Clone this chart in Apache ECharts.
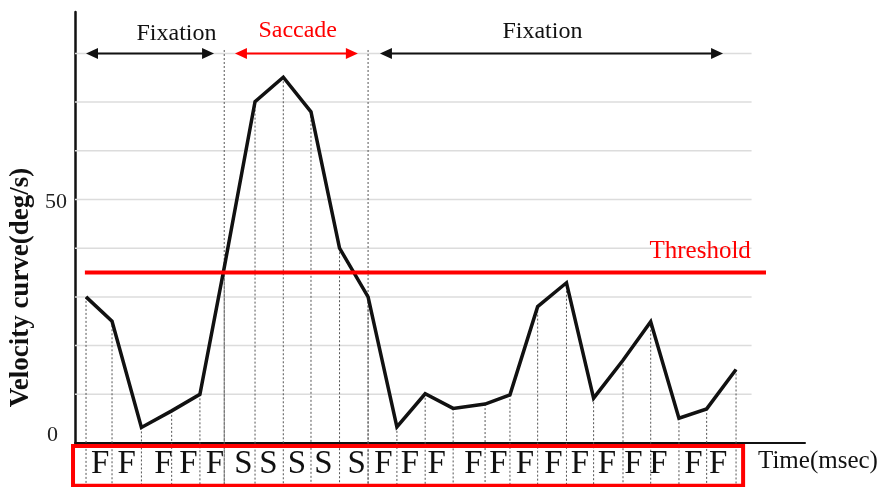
<!DOCTYPE html>
<html><head><meta charset="utf-8">
<script src="https://cdn.jsdelivr.net/npm/echarts@6/dist/echarts.min.js"></script>
<style>html,body{margin:0;padding:0;background:#fff}#c{width:887px;height:487px}</style>
</head><body><div id="c"></div>
<script>
// ---- data ----
const times = [0, 0.92, 1.96, 3.03, 4.03, 4.89, 5.98, 6.98, 7.96, 8.97, 9.98, 11.0, 12.0, 12.99, 14.12, 15.0, 15.98, 17.0, 17.96, 19.0, 19.98, 20.98, 21.96, 23.0];
const velocity = [30.0, 25.0, 3.2, 6.6, 10.0, 36.0, 70.1, 75.1, 68.0, 40.0, 30.0, 3.3, 10.1, 7.1, 8.0, 9.9, 28.0, 32.9, 9.2, 17.0, 24.9, 5.1, 7.0, 15.1];
const threshold = 35;
const thresholdSpan = [-0.04, 24.06];
const thresholdLabelAt = [21.73, 39.4];
const gridValues = [10, 20, 30, 40, 50, 60, 70, 80];
const gridSpan = [-0.39, 23.55];
const yTickLabels = ['0', '50'];
const phaseBoundaries = [4.89, 9.98];
const boundaryTop = 80.7;
const phaseNames = ['Fixation', 'Saccade', 'Fixation'];
const phaseStart = [0, 5.27, 10.40];
const phaseEnd = [4.53, 9.62, 22.54];
const phaseLabelTimes = [3.2, 7.49, 16.15];
const phaseLabelValues = [84.0, 84.6, 84.4];
const arrowValue = 80;
const sampleClasses = ['F','F','F','F','F','S','S','S','S','S','F','F','F','F','F','F','F','F','F','F','F','F','F'];
const classTimes = [0.50, 1.44, 2.74, 3.62, 4.56, 5.57, 6.45, 7.46, 8.40, 9.58, 10.52, 11.46, 12.41, 13.71, 14.59, 15.53, 16.54, 17.48, 18.43, 19.37, 20.25, 21.49, 22.37];
const classValue = -4.3;
const boxTimes = [-0.46, 23.25];
const boxValues = [-0.6, -8.8];

// ---- styles ----
const SERIF = '"Liberation Serif", "DejaVu Serif", serif';
const RED = '#ff0000';
const BLACK = '#111111';
const phaseColors = [BLACK, RED, BLACK];

const chart = echarts.init(document.getElementById('c'), null, {renderer: 'canvas'});

function textEl(x, y, text, size, color, weight) {
  return {type: 'text', x: x, y: y, style: {text: text, fill: color, fontSize: size, fontFamily: SERIF, fontWeight: weight || 'normal', align: 'center', verticalAlign: 'middle', textAlign: 'center', textVerticalAlign: 'middle'}};
}

const option = {
  animation: false,
  backgroundColor: '#ffffff',
  grid: {left: 75, right: 82, top: 12, bottom: 44, containLabel: false, outerBoundsMode: 'none'},
  xAxis: {
    type: 'value', min: -0.39, max: 25.44,
    axisLine: {show: true, onZero: true, lineStyle: {color: BLACK, width: 2}},
    axisTick: {show: false}, axisLabel: {show: false}, splitLine: {show: false},
    name: 'Time(msec)', nameLocation: 'end', nameGap: -47,
    nameTextStyle: {fontFamily: SERIF, fontSize: 25, color: BLACK, align: 'left', verticalAlign: 'top', lineHeight: 36}
  },
  yAxis: {
    type: 'value', min: 0, max: 88.5, interval: 10,
    axisLine: {show: true, onZero: false, lineStyle: {color: BLACK, width: 2.5}},
    axisTick: {show: false}, splitLine: {show: false},
    axisLabel: {
      margin: 8,
      formatter: function (v) { return v === 0 ? '{z|' + yTickLabels[0] + '}' : (v === 50 ? '{f|' + yTickLabels[1] + '}' : ''); },
      rich: {
        z: {fontFamily: SERIF, fontSize: 22, color: '#222', padding: [0, 9, 16, 0]},
        f: {fontFamily: SERIF, fontSize: 22, color: '#222', padding: [6, 0, 0, 0]}
      }
    },
    name: 'Velocity curve(deg/s)', nameLocation: 'middle', nameGap: 20, nameRotate: 90,
    nameTextStyle: {fontFamily: SERIF, fontSize: 27, fontWeight: 'bold', color: BLACK, padding: [0, 120, 0, 0]}
  },
  series: [
    { // horizontal gridlines
      type: 'custom', z: 1, silent: true, clip: false,
      data: gridValues.map(v => [gridSpan[0], v]),
      renderItem: function (params, api) {
        const v = api.value(1);
        const a = api.coord([gridSpan[0], v]);
        const b = api.coord([gridSpan[1], v]);
        return {type: 'line', shape: {x1: a[0], y1: a[1], x2: b[0], y2: b[1]}, style: {stroke: '#dcdcdc', lineWidth: 1.5}};
      }
    },
    { // dotted drop lines from each sample
      type: 'custom', z: 2, silent: true, clip: false,
      data: times.map((t, i) => [t, velocity[i]]),
      renderItem: function (params, api) {
        const t = api.value(0);
        const a = api.coord([t, api.value(1)]);
        const b = api.coord([t, boxValues[1]]);
        return {type: 'line', shape: {x1: a[0], y1: a[1], x2: b[0], y2: b[1]}, style: {stroke: '#555', lineWidth: 1, lineDash: [2, 2]}};
      }
    },
    { // dotted phase boundaries
      type: 'custom', z: 2, silent: true, clip: false,
      data: phaseBoundaries.map(t => [t, boundaryTop]),
      renderItem: function (params, api) {
        const t = api.value(0);
        const a = api.coord([t, api.value(1)]);
        const b = api.coord([t, boxValues[1]]);
        return {type: 'line', shape: {x1: a[0], y1: a[1], x2: b[0], y2: b[1]}, style: {stroke: '#555', lineWidth: 1, lineDash: [2, 2]}};
      }
    },
    { // velocity curve
      type: 'line', z: 3, name: 'Velocity', symbol: 'none',
      data: times.map((t, i) => [t, velocity[i]]),
      lineStyle: {color: BLACK, width: 3.5, join: 'miter'}
    },
    { // threshold
      type: 'line', z: 4, name: 'Threshold', symbol: 'none', clip: false,
      data: thresholdSpan.map(t => [t, threshold]),
      lineStyle: {color: RED, width: 4}
    },
    { // threshold label
      type: 'custom', z: 5, silent: true, clip: false,
      data: [thresholdLabelAt],
      renderItem: function (params, api) {
        const p = api.coord([api.value(0), api.value(1)]);
        return textEl(p[0], p[1], 'Threshold', 25, RED);
      }
    },
    { // phase arrows and labels
      type: 'custom', z: 5, silent: true, clip: false,
      data: phaseStart.map((s, i) => [s, phaseEnd[i], phaseLabelTimes[i], phaseLabelValues[i]]),
      renderItem: function (params, api) {
        const i = params.dataIndex;
        const col = phaseColors[i];
        const a = api.coord([api.value(0), arrowValue]);
        const b = api.coord([api.value(1), arrowValue]);
        const L = 12, H = 5.5;
        const lp = api.coord([api.value(2), api.value(3)]);
        return {type: 'group', children: [
          {type: 'line', shape: {x1: a[0] + L - 1, y1: a[1], x2: b[0] - L + 1, y2: b[1]}, style: {stroke: col, lineWidth: 2}},
          {type: 'polygon', shape: {points: [[a[0], a[1]], [a[0] + L, a[1] - H], [a[0] + L, a[1] + H]]}, style: {fill: col}},
          {type: 'polygon', shape: {points: [[b[0], b[1]], [b[0] - L, b[1] - H], [b[0] - L, b[1] + H]]}, style: {fill: col}},
          textEl(lp[0], lp[1], phaseNames[i], 24, col)
        ]};
      }
    },
    { // classification box
      type: 'custom', z: 5, silent: true, clip: false,
      data: [[boxTimes[0], boxValues[0], boxTimes[1], boxValues[1]]],
      renderItem: function (params, api) {
        const a = api.coord([api.value(0), api.value(1)]);
        const b = api.coord([api.value(2), api.value(3)]);
        return {type: 'rect', shape: {x: a[0], y: a[1], width: b[0] - a[0], height: b[1] - a[1]}, style: {fill: 'none', stroke: RED, lineWidth: 4}};
      }
    },
    { // F / S classification labels
      type: 'custom', z: 6, silent: true, clip: false,
      data: classTimes.map(t => [t, classValue]),
      renderItem: function (params, api) {
        const p = api.coord([api.value(0), api.value(1)]);
        return textEl(p[0], p[1], sampleClasses[params.dataIndex], 33, BLACK);
      }
    }
  ]
};
chart.setOption(option);
</script>
</body></html>
